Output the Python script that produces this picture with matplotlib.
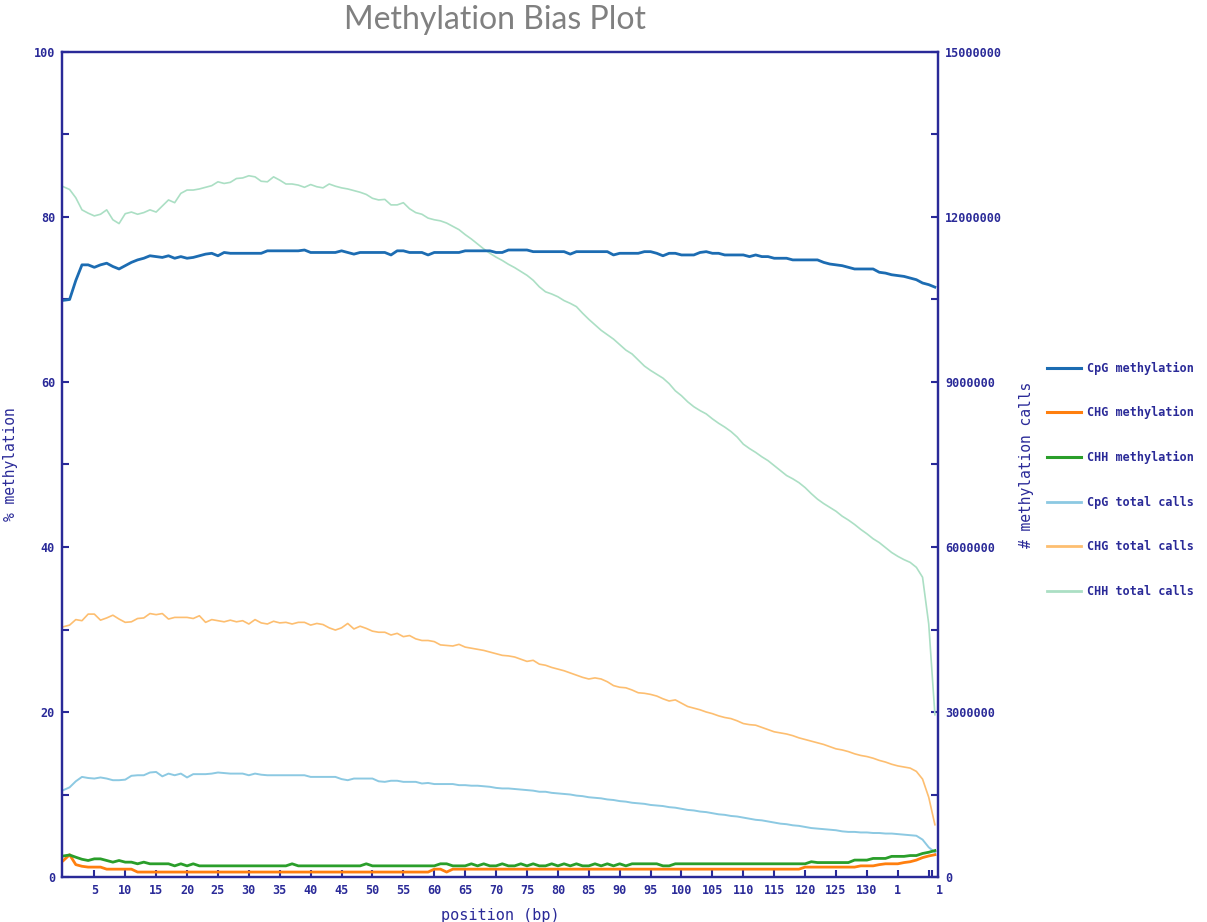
import numpy as np
import matplotlib
matplotlib.use("Agg")
import matplotlib.pyplot as plt
from matplotlib.lines import Line2D

# ---------------------------------------------------------------
# data (positions 0..141)
# ---------------------------------------------------------------
positions = np.arange(142)

# % methylation (left axis)
cpg_meth = [69.9, 70.0, 72.3, 74.2, 74.2, 73.9, 74.2, 74.4, 74.0, 73.7,
            74.1, 74.5, 74.8, 75.0, 75.3, 75.2, 75.1, 75.3, 75.0, 75.2,
            75.0, 75.1, 75.3, 75.5, 75.6, 75.3, 75.7, 75.6, 75.6, 75.6,
            75.6, 75.6, 75.6, 75.9, 75.9, 75.9, 75.9, 75.9, 75.9, 76.0,
            75.7, 75.7, 75.7, 75.7, 75.7, 75.9, 75.7, 75.5, 75.7, 75.7,
            75.7, 75.7, 75.7, 75.4, 75.9, 75.9, 75.7, 75.7, 75.7, 75.4,
            75.7, 75.7, 75.7, 75.7, 75.7, 75.9, 75.9, 75.9, 75.9, 75.9,
            75.7, 75.7, 76.0, 76.0, 76.0, 76.0, 75.8, 75.8, 75.8, 75.8,
            75.8, 75.8, 75.5, 75.8, 75.8, 75.8, 75.8, 75.8, 75.8, 75.4,
            75.6, 75.6, 75.6, 75.6, 75.8, 75.8, 75.6, 75.3, 75.6, 75.6,
            75.4, 75.4, 75.4, 75.7, 75.8, 75.6, 75.6, 75.4, 75.4, 75.4,
            75.4, 75.2, 75.4, 75.2, 75.2, 75.0, 75.0, 75.0, 74.8, 74.8,
            74.8, 74.8, 74.8, 74.5, 74.3, 74.2, 74.1, 73.9, 73.7, 73.7,
            73.7, 73.7, 73.3, 73.2, 73.0, 72.9, 72.8, 72.6, 72.4, 72.0,
            71.8, 71.5]

chg_meth = [2.0, 2.7, 1.5, 1.3, 1.2, 1.2, 1.2, 0.95, 0.95, 0.95,
            0.95, 0.95, 0.6, 0.6, 0.6, 0.6, 0.6, 0.6, 0.6, 0.6,
            0.6, 0.6, 0.6, 0.6, 0.6, 0.6, 0.6, 0.6, 0.6, 0.6,
            0.6, 0.6, 0.6, 0.6, 0.6, 0.6, 0.6, 0.6, 0.6, 0.6,
            0.6, 0.6, 0.6, 0.6, 0.6, 0.6, 0.6, 0.6, 0.6, 0.6,
            0.6, 0.6, 0.6, 0.6, 0.6, 0.6, 0.6, 0.6, 0.6, 0.6,
            0.95, 0.95, 0.6, 0.95, 0.95, 0.95, 0.95, 0.95, 0.95, 0.95,
            0.95, 0.95, 0.95, 0.95, 0.95, 0.95, 0.95, 0.95, 0.95, 0.95,
            0.95, 0.95, 0.95, 0.95, 0.95, 0.95, 0.95, 0.95, 0.95, 0.95,
            0.95, 0.95, 0.95, 0.95, 0.95, 0.95, 0.95, 0.95, 0.95, 0.95,
            0.95, 0.95, 0.95, 0.95, 0.95, 0.95, 0.95, 0.95, 0.95, 0.95,
            0.95, 0.95, 0.95, 0.95, 0.95, 0.95, 0.95, 0.95, 0.95, 0.95,
            1.2, 1.2, 1.2, 1.2, 1.2, 1.2, 1.2, 1.2, 1.2, 1.35,
            1.35, 1.35, 1.5, 1.6, 1.6, 1.6, 1.75, 1.85, 2.05, 2.35,
            2.55, 2.7]

chh_meth = [2.55, 2.67, 2.4, 2.15, 2.0, 2.2, 2.2, 2.0, 1.8, 2.0,
            1.8, 1.8, 1.6, 1.8, 1.6, 1.6, 1.6, 1.6, 1.35, 1.6,
            1.35, 1.6, 1.35, 1.35, 1.35, 1.35, 1.35, 1.35, 1.35, 1.35,
            1.35, 1.35, 1.35, 1.35, 1.35, 1.35, 1.35, 1.6, 1.35, 1.35,
            1.35, 1.35, 1.35, 1.35, 1.35, 1.35, 1.35, 1.35, 1.35, 1.6,
            1.35, 1.35, 1.35, 1.35, 1.35, 1.35, 1.35, 1.35, 1.35, 1.35,
            1.35, 1.6, 1.6, 1.35, 1.35, 1.35, 1.6, 1.35, 1.6, 1.35,
            1.35, 1.6, 1.35, 1.35, 1.6, 1.35, 1.6, 1.35, 1.35, 1.6,
            1.35, 1.6, 1.35, 1.6, 1.35, 1.35, 1.6, 1.35, 1.6, 1.35,
            1.6, 1.35, 1.6, 1.6, 1.6, 1.6, 1.6, 1.35, 1.35, 1.6,
            1.6, 1.6, 1.6, 1.6, 1.6, 1.6, 1.6, 1.6, 1.6, 1.6,
            1.6, 1.6, 1.6, 1.6, 1.6, 1.6, 1.6, 1.6, 1.6, 1.6,
            1.6, 1.85, 1.75, 1.75, 1.75, 1.75, 1.75, 1.75, 2.05, 2.05,
            2.05, 2.25, 2.25, 2.25, 2.5, 2.5, 2.5, 2.6, 2.6, 2.85,
            3.0, 3.2]

# total calls in millions (right axis)
cpg_total = [1.58, 1.63, 1.74, 1.82, 1.80, 1.79, 1.81, 1.79, 1.76, 1.76,
             1.77, 1.84, 1.85, 1.85, 1.90, 1.91, 1.83, 1.88, 1.85, 1.88,
             1.81, 1.87, 1.87, 1.87, 1.88, 1.90, 1.89, 1.88, 1.88, 1.88,
             1.85, 1.88, 1.86, 1.85, 1.85, 1.85, 1.85, 1.85, 1.85, 1.85,
             1.82, 1.82, 1.82, 1.82, 1.82, 1.78, 1.76, 1.79, 1.79, 1.79,
             1.79, 1.74, 1.73, 1.75, 1.75, 1.73, 1.73, 1.73, 1.70, 1.71,
             1.69, 1.69, 1.69, 1.69, 1.67, 1.67, 1.66, 1.66, 1.65, 1.64,
             1.62, 1.61, 1.61, 1.60, 1.59, 1.58, 1.57, 1.55, 1.55, 1.53,
             1.52, 1.51, 1.50, 1.48, 1.47, 1.45, 1.44, 1.43, 1.41, 1.40,
             1.38, 1.37, 1.35, 1.34, 1.33, 1.31, 1.30, 1.29, 1.27, 1.26,
             1.24, 1.22, 1.21, 1.19, 1.18, 1.16, 1.14, 1.13, 1.11, 1.10,
             1.08, 1.06, 1.04, 1.03, 1.01, 0.99, 0.97, 0.96, 0.94, 0.93,
             0.91, 0.89, 0.88, 0.87, 0.86, 0.85, 0.83, 0.82, 0.82, 0.81,
             0.81, 0.80, 0.80, 0.79, 0.79, 0.78, 0.77, 0.76, 0.75, 0.68,
             0.54, 0.45]

chg_total = [4.55, 4.58, 4.68, 4.66, 4.78, 4.78, 4.67, 4.71, 4.76, 4.69,
             4.63, 4.64, 4.70, 4.71, 4.79, 4.77, 4.79, 4.69, 4.72, 4.72,
             4.72, 4.70, 4.75, 4.63, 4.68, 4.66, 4.64, 4.67, 4.64, 4.66,
             4.60, 4.68, 4.62, 4.60, 4.65, 4.62, 4.63, 4.60, 4.63, 4.63,
             4.58, 4.61, 4.59, 4.53, 4.49, 4.53, 4.61, 4.51, 4.56, 4.52,
             4.47, 4.45, 4.45, 4.40, 4.43, 4.37, 4.39, 4.33, 4.30, 4.30,
             4.28, 4.22, 4.21, 4.20, 4.23, 4.18, 4.16, 4.14, 4.12, 4.09,
             4.06, 4.03, 4.02, 4.00, 3.96, 3.92, 3.94, 3.87, 3.85, 3.81,
             3.78, 3.75, 3.71, 3.67, 3.63, 3.60, 3.62, 3.60, 3.55, 3.48,
             3.45, 3.44, 3.40, 3.35, 3.34, 3.32, 3.29, 3.24, 3.20, 3.22,
             3.16, 3.10, 3.07, 3.04, 3.00, 2.97, 2.93, 2.90, 2.88, 2.84,
             2.79, 2.77, 2.76, 2.72, 2.68, 2.64, 2.62, 2.60, 2.57, 2.53,
             2.50, 2.47, 2.44, 2.41, 2.37, 2.33, 2.31, 2.28, 2.24, 2.21,
             2.19, 2.16, 2.12, 2.09, 2.05, 2.02, 2.00, 1.98, 1.92, 1.78,
             1.45, 0.95]

chh_total = [12.55, 12.50, 12.35, 12.13, 12.07, 12.02, 12.05, 12.13, 11.95, 11.88,
             12.06, 12.09, 12.05, 12.08, 12.13, 12.09, 12.20, 12.31, 12.26, 12.43,
             12.49, 12.49, 12.51, 12.54, 12.57, 12.64, 12.61, 12.63, 12.70, 12.71,
             12.75, 12.73, 12.65, 12.64, 12.73, 12.67, 12.60, 12.60, 12.58, 12.54,
             12.59, 12.55, 12.53, 12.60, 12.56, 12.53, 12.51, 12.48, 12.45, 12.41,
             12.34, 12.31, 12.32, 12.22, 12.22, 12.26, 12.15, 12.08, 12.05, 11.98,
             11.95, 11.93, 11.89, 11.83, 11.77, 11.68, 11.60, 11.51, 11.42, 11.34,
             11.27, 11.21, 11.14, 11.08, 11.01, 10.94, 10.85, 10.73, 10.64, 10.60,
             10.55, 10.48, 10.43, 10.37, 10.25, 10.14, 10.04, 9.94, 9.86, 9.78,
             9.68, 9.58, 9.51, 9.40, 9.29, 9.21, 9.14, 9.07, 8.97, 8.84,
             8.75, 8.64, 8.55, 8.48, 8.42, 8.33, 8.25, 8.18, 8.10, 8.00,
             7.87, 7.79, 7.72, 7.64, 7.57, 7.48, 7.39, 7.30, 7.24, 7.17,
             7.08, 6.97, 6.87, 6.79, 6.72, 6.65, 6.56, 6.49, 6.41, 6.32,
             6.24, 6.15, 6.08, 5.99, 5.90, 5.83, 5.77, 5.72, 5.63, 5.45,
             4.60, 2.95]

series_labels = ["CpG methylation", "CHG methylation", "CHH methylation",
                 "CpG total calls", "CHG total calls", "CHH total calls"]
series_colors = ["#1c6cb2", "#ff7f0e", "#2a9e2a", "#8cc9e2", "#fdbe70", "#abdfc4"]

left_ticks = [0, 20, 40, 60, 80, 100]
right_ticks = [0, 3000000, 6000000, 9000000, 12000000, 15000000]
x_ticks = [5, 10, 15, 20, 25, 30, 35, 40, 45, 50, 55, 60, 65, 70, 75, 80, 85,
           90, 95, 100, 105, 110, 115, 120, 125, 130, 135, 140, 140.5]
x_tick_labels = ["5", "10", "15", "20", "25", "30", "35", "40", "45", "50", "55",
                 "60", "65", "70", "75", "80", "85", "90", "95", "100", "105",
                 "110", "115", "120", "125", "130", "1", "", ""]

# ---------------------------------------------------------------
navy = "#2a2a98"
tick_font = dict(family="DejaVu Sans Mono", weight="bold", size=8.5)

fig = plt.figure(figsize=(12.07, 9.22), dpi=100)
ax = fig.add_axes([62 / 1207, 1 - 877 / 922, 876 / 1207, 825 / 922])
ax2 = ax.twinx()

# total calls first (behind), methylation on top
ax2.plot(positions, np.array(chh_total) * 1e6, color=series_colors[5], lw=1.2)
ax2.plot(positions, np.array(chg_total) * 1e6, color=series_colors[4], lw=1.2)
ax2.plot(positions, np.array(cpg_total) * 1e6, color=series_colors[3], lw=1.4)
ax.set_zorder(ax2.get_zorder() + 1)
ax.patch.set_visible(False)
ax.plot(positions, cpg_meth, color=series_colors[0], lw=2.0)
ax.plot(positions, chg_meth, color=series_colors[1], lw=2.0)
ax.plot(positions, chh_meth, color=series_colors[2], lw=2.0)

ax.set_xlim(-0.23, 141.5)
ax.set_ylim(0, 100)
ax2.set_ylim(0, 15000000)

ax.set_yticks(left_ticks)
ax.set_yticks([10, 30, 50, 70, 90], minor=True)
ax.set_yticklabels([str(t) for t in left_ticks], **tick_font, color=navy)
ax2.set_yticks(right_ticks)
ax2.set_yticks([1500000, 4500000, 7500000, 10500000, 13500000], minor=True)
ax2.set_yticklabels([str(t) for t in right_ticks], **tick_font, color=navy)
ax.set_xticks(x_ticks)
ax.set_xticklabels(x_tick_labels, **tick_font, color=navy)
ax.text(141.8, -0.0085, "1", transform=ax.get_xaxis_transform(), ha="center",
        va="top", color=navy, **tick_font)

for a in (ax, ax2):
    for s in a.spines.values():
        s.set_color(navy)
        s.set_linewidth(1.6)
    a.tick_params(which="both", direction="in", length=5, width=1.5, color=navy, pad=5)

ax.set_ylabel("% methylation", family="DejaVu Sans Mono", size=10.5, color=navy)
ax.yaxis.set_label_coords(-44 / 876, 0.5)
ax2.set_ylabel("# methylation calls", family="DejaVu Sans Mono", size=10.5, color=navy,
               labelpad=12)
ax.set_xlabel("position (bp)", family="DejaVu Sans Mono", size=11, color=navy, labelpad=8)

fig.text(0.41, 0.978, "Methylation Bias Plot", family="Lato", size=23,
         color="#808080", ha="center", va="center")

handles = [Line2D([], [], color=c, lw=2.2 if i < 3 else 2.0) for i, c in enumerate(series_colors)]
fig.legend(handles, series_labels, loc="upper left", bbox_to_anchor=(1036 / 1207, 1 - 351 / 922),
           frameon=False, handlelength=2.9, handletextpad=0.55, labelspacing=2.68,
           prop=dict(family="DejaVu Sans Mono", weight="bold", size=8.5), labelcolor=navy)

fig.savefig("out.png", dpi=100)
